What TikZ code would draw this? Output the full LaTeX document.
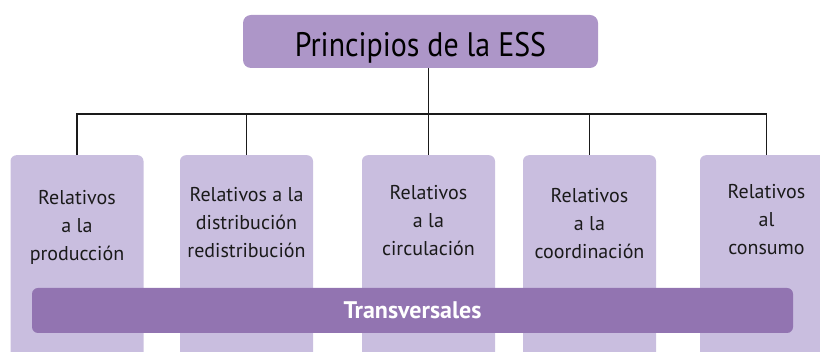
\documentclass[tikz,border=0pt]{standalone}
\usepackage{fontspec}
\setmainfont{PT Sans}
\newfontfamily\titlefont{PT Sans}[FakeStretch=0.88]
\definecolor{lilaTitulo}{HTML}{AD96C8}
\definecolor{lilaCaja}{HTML}{C9BEDF}
\definecolor{lilaBarra}{HTML}{9274B1}
\definecolor{tinta}{HTML}{1A1A1A}
\begin{document}
\begin{tikzpicture}[x=1pt, y=-1pt]
      \tikzstyle{titulo} = [rectangle, rounded corners=8pt, fill=lilaTitulo, minimum width=355pt, minimum height=53pt, inner sep=0pt, text height=31pt, text depth=0pt, font=\titlefont\fontsize{34}{36}\selectfont, text=black]
      \tikzstyle{caja} = [rectangle, rounded corners=6pt, fill=lilaCaja, anchor=north, minimum width=133pt, minimum height=230pt, inner sep=0pt]
      \tikzstyle{texto} = [anchor=north, align=center, inner sep=0pt, text=tinta, font=\fontsize{20}{28}\selectfont]
      \tikzstyle{barra} = [rectangle, rounded corners=6pt, fill=lilaBarra, minimum width=761pt, minimum height=45pt, inner sep=0pt, text=white, font=\bfseries\fontsize{24}{28}\selectfont]
      \tikzstyle{linea} = [line width=1.2pt, draw=tinta]

      \useasboundingbox (0,0) rectangle (820,352);
      \clip (0,0) rectangle (820,352);

      \node (titulo) [titulo] at (420.5,41.5) {Principios de la ESS};

      \node (prod) [caja] at (77,155) {};
      \node (dist) [caja] at (246.5,155) {};
      \node (circ) [caja] at (428.5,155) {};
      \node (coord) [caja] at (589.5,155) {};
      \node (cons) [caja] at (766.5,155) {};

      \node (prod-txt) [texto] at (77,190.5) {Relativos\\a la\\producción};
      \node (dist-txt) [texto] at (246.5,187.5) {Relativos a la\\distribución\\redistribución};
      \node (circ-txt) [texto] at (428.5,185.5) {Relativos\\a la\\circulación};
      \node (coord-txt) [texto] at (589.5,188.5) {Relativos\\a la\\coordinación};
      \node (cons-txt) [texto] at (766.5,184.5) {Relativos\\al\\consumo};

      \node (transv) [barra] at (412.5,310.5) {Transversales};

      \coordinate (bus) at (0,114);
      \draw [linea] (titulo.south -| circ.north) -- (circ.north);
      \draw [linea] (prod.north) |- (bus -| cons.north) -- (cons.north);
      \draw [linea] (dist.north) -- (dist.north |- bus);
      \draw [linea] (coord.north) -- (coord.north |- bus);
    \end{tikzpicture}
\end{document}
